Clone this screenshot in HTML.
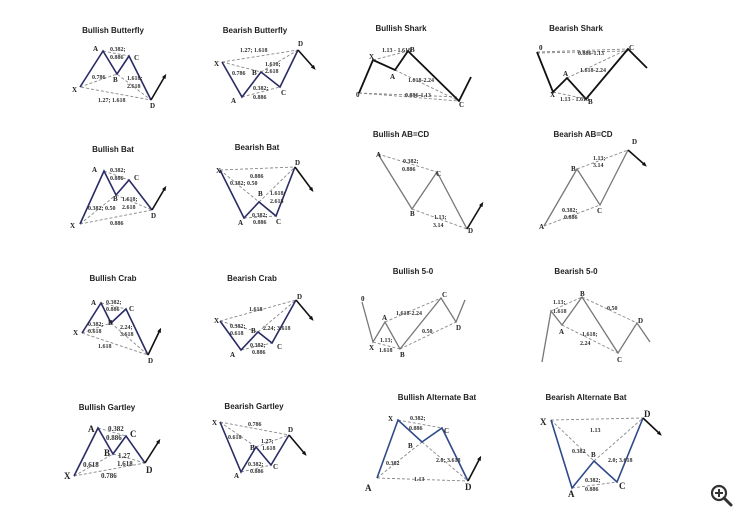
<!DOCTYPE html>
<html><head><meta charset="utf-8"><style>
html,body{margin:0;padding:0;background:#fff;}
svg{display:block}
.t{font-family:"Liberation Sans",sans-serif;font-weight:bold;font-size:8px;fill:#222;text-anchor:middle}
.l{font-family:"Liberation Serif",serif;font-weight:bold;font-size:7px;fill:#222}
.s{font-family:"Liberation Serif",serif;font-weight:bold;font-size:6px;fill:#333}
.bl{fill:none;stroke:#2b2b66;stroke-width:1.6;stroke-linejoin:miter}
.bk{fill:none;stroke:#111;stroke-width:1.8}
.gr{fill:none;stroke:#777;stroke-width:1.3}
.d{fill:none;stroke:#888;stroke-width:0.9;stroke-dasharray:3,2}
.ar{fill:none;stroke:#111;stroke-width:1.6}
</style></head><body>
<svg width="750" height="523" viewBox="0 0 750 523" xmlns="http://www.w3.org/2000/svg">
<defs><marker id="m" markerUnits="userSpaceOnUse" markerWidth="5" markerHeight="5" refX="2.5" refY="2.5" orient="auto"><path d="M0,0.5 L5,2.5 L0,4.5z" fill="#111"/></marker></defs>

<!-- Bullish Butterfly -->
<text class="t" x="113" y="33">Bullish Butterfly</text>
<polyline class="d" points="80,87 117,74 151,100 80,87"/><line class="d" x1="103" y1="51" x2="129" y2="56"/>
<polyline class="bl" points="80,87 103,51 117,74 129,56 151,100"/>
<line class="ar" x1="151" y1="100" x2="165" y2="76" marker-end="url(#m)"/>
<text class="l" x="93" y="51">A</text><text class="l" x="113" y="82">B</text><text class="l" x="134" y="60">C</text><text class="l" x="150" y="108">D</text><text class="l" x="72" y="92">X</text>
<text class="s" x="110" y="51">0.382;</text><text class="s" x="110" y="59">0.886</text><text class="s" x="92" y="79">0.786</text>
<text class="s" x="127" y="80">1.618;</text><text class="s" x="127" y="88">2.618</text><text class="s" x="98" y="102">1.27; 1.618</text>

<!-- Bearish Butterfly -->
<text class="t" x="255" y="33">Bearish Butterfly</text>
<polyline class="d" points="222,62 298,50"/><line class="d" x1="222" y1="62" x2="261" y2="72"/><line class="d" x1="261" y1="72" x2="298" y2="50"/><line class="d" x1="242" y1="97" x2="280" y2="87"/>
<polyline class="bl" points="222,62 242,97 261,72 280,87 298,50"/>
<line class="ar" x1="298" y1="50" x2="314" y2="68" marker-end="url(#m)"/>
<text class="l" x="214" y="66">X</text><text class="l" x="231" y="103">A</text><text class="l" x="252" y="75">B</text><text class="l" x="281" y="95">C</text><text class="l" x="298" y="46">D</text>
<text class="s" x="240" y="52">1.27; 1.618</text><text class="s" x="232" y="75">0.786</text><text class="s" x="265" y="66">1.618;</text><text class="s" x="265" y="73">2.618</text>
<text class="s" x="253" y="90">0.382;</text><text class="s" x="253" y="99">0.886</text>

<!-- Bullish Shark -->
<text class="t" x="401" y="31">Bullish Shark</text>
<line class="d" x1="359" y1="93" x2="459" y2="101"/><line class="d" x1="359" y1="93" x2="459" y2="97"/><line class="d" x1="373" y1="60" x2="408" y2="51"/><line class="d" x1="395" y1="70" x2="459" y2="101"/>
<polyline class="bk" points="359,93 373,60 395,70 408,51 459,101 471,77"/>
<text class="l" x="356" y="97">0</text><text class="l" x="369" y="59">X</text><text class="l" x="390" y="79">A</text><text class="l" x="410" y="52">B</text><text class="l" x="459" y="107">C</text>
<text class="s" x="382" y="52">1.13 - 1.618</text><text class="s" x="408" y="82">1.618-2.24</text><text class="s" x="405" y="97">0.886-1.13</text>

<!-- Bearish Shark -->
<text class="t" x="576" y="31">Bearish Shark</text>
<line class="d" x1="537" y1="52" x2="628" y2="49"/><line class="d" x1="537" y1="53" x2="628" y2="51"/><line class="d" x1="567" y1="78" x2="628" y2="49"/><line class="d" x1="553" y1="92" x2="586" y2="99"/>
<polyline class="bk" points="537,52 553,92 567,78 586,99 628,49 647,68"/>
<text class="l" x="539" y="50">0</text><text class="l" x="550" y="97">X</text><text class="l" x="563" y="76">A</text><text class="l" x="588" y="104">B</text><text class="l" x="629" y="50">C</text>
<text class="s" x="578" y="55">0.886-1.13</text><text class="s" x="580" y="72">1.618-2.24</text><text class="s" x="560" y="101">1.13 - 1.618</text>

<!-- Bullish Bat -->
<text class="t" x="113" y="152">Bullish Bat</text>
<line class="d" x1="80" y1="224" x2="116" y2="195"/><line class="d" x1="80" y1="224" x2="152" y2="210"/><line class="d" x1="104" y1="171" x2="129" y2="180"/><line class="d" x1="116" y1="195" x2="152" y2="210"/>
<polyline class="bl" points="80,224 104,171 116,195 129,180 152,210"/>
<line class="ar" x1="152" y1="210" x2="165" y2="188" marker-end="url(#m)"/>
<text class="l" x="92" y="172">A</text><text class="l" x="113" y="201">B</text><text class="l" x="134" y="180">C</text><text class="l" x="151" y="218">D</text><text class="l" x="70" y="228">X</text>
<text class="s" x="110" y="172">0.382;</text><text class="s" x="110" y="180">0.886</text><text class="s" x="88" y="210">0.382; 0.50</text>
<text class="s" x="122" y="201">1.618;</text><text class="s" x="122" y="209">2.618</text><text class="s" x="110" y="225">0.886</text>

<!-- Bearish Bat -->
<text class="t" x="257" y="150">Bearish Bat</text>
<line class="d" x1="220" y1="170" x2="295" y2="167"/><line class="d" x1="220" y1="170" x2="259" y2="202"/><line class="d" x1="259" y1="202" x2="295" y2="167"/><line class="d" x1="244" y1="218" x2="276" y2="216"/>
<polyline class="bl" points="220,170 244,218 259,202 276,216 295,167"/>
<line class="ar" x1="295" y1="167" x2="312" y2="190" marker-end="url(#m)"/>
<text class="l" x="216" y="173">X</text><text class="l" x="238" y="225">A</text><text class="l" x="258" y="196">B</text><text class="l" x="276" y="224">C</text><text class="l" x="295" y="165">D</text>
<text class="s" x="250" y="178">0.886</text><text class="s" x="230" y="185">0.382; 0.50</text><text class="s" x="270" y="195">1.618;</text><text class="s" x="270" y="203">2.618</text>
<text class="s" x="252" y="217">0.382;</text><text class="s" x="253" y="224">0.886</text>

<!-- Bullish AB=CD -->
<text class="t" x="401" y="137">Bullish AB=CD</text>
<line class="d" x1="378" y1="154" x2="437" y2="172"/><line class="d" x1="412" y1="209" x2="467" y2="229"/>
<polyline class="gr" points="378,154 412,209 437,172 467,229"/>
<line class="ar" x1="467" y1="229" x2="482" y2="204" marker-end="url(#m)"/>
<text class="l" x="376" y="157">A</text><text class="l" x="410" y="216">B</text><text class="l" x="436" y="176">C</text><text class="l" x="468" y="233">D</text>
<text class="s" x="403" y="163">0.382;</text><text class="s" x="402" y="171">0.886</text><text class="s" x="434" y="219">1.13;</text><text class="s" x="433" y="227">3.14</text>

<!-- Bearish AB=CD -->
<text class="t" x="583" y="137">Bearish AB=CD</text>
<line class="d" x1="577" y1="169" x2="628" y2="150"/><line class="d" x1="544" y1="226" x2="600" y2="205"/>
<polyline class="gr" points="544,226 577,169 600,205 628,150"/>
<line class="ar" x1="628" y1="150" x2="645" y2="165" marker-end="url(#m)"/>
<text class="l" x="539" y="229">A</text><text class="l" x="571" y="171">B</text><text class="l" x="597" y="213">C</text><text class="l" x="632" y="144">D</text>
<text class="s" x="593" y="160">1.13;</text><text class="s" x="593" y="167">3.14</text><text class="s" x="562" y="212">0.382;</text><text class="s" x="564" y="219">0.886</text>

<!-- Bullish Crab -->
<text class="t" x="113" y="281">Bullish Crab</text>
<line class="d" x1="82" y1="333" x2="111" y2="323"/><line class="d" x1="82" y1="333" x2="148" y2="355"/><line class="d" x1="101" y1="303" x2="126" y2="309"/><line class="d" x1="111" y1="323" x2="148" y2="355"/>
<polyline class="bl" points="82,333 101,303 111,323 126,309 148,355"/>
<line class="ar" x1="148" y1="355" x2="160" y2="330" marker-end="url(#m)"/>
<text class="l" x="91" y="305">A</text><text class="l" x="108" y="325">B</text><text class="l" x="129" y="311">C</text><text class="l" x="148" y="363">D</text><text class="l" x="73" y="335">X</text>
<text class="s" x="106" y="304">0.382;</text><text class="s" x="106" y="311">0.886</text><text class="s" x="88" y="326">0.382;</text><text class="s" x="88" y="333">0.618</text>
<text class="s" x="120" y="329">2.24;</text><text class="s" x="120" y="336">3.618</text><text class="s" x="98" y="348">1.618</text>

<!-- Bearish Crab -->
<text class="t" x="252" y="281">Bearish Crab</text>
<line class="d" x1="220" y1="321" x2="296" y2="300"/><line class="d" x1="220" y1="321" x2="258" y2="332"/><line class="d" x1="258" y1="332" x2="296" y2="300"/><line class="d" x1="241" y1="350" x2="272" y2="343"/>
<polyline class="bl" points="220,321 241,350 258,332 272,343 296,300"/>
<line class="ar" x1="296" y1="300" x2="312" y2="319" marker-end="url(#m)"/>
<text class="l" x="214" y="323">X</text><text class="l" x="230" y="357">A</text><text class="l" x="251" y="333">B</text><text class="l" x="277" y="349">C</text><text class="l" x="297" y="299">D</text>
<text class="s" x="249" y="311">1.618</text><text class="s" x="230" y="328">0.382;</text><text class="s" x="230" y="335">0.618</text><text class="s" x="263" y="330">2.24; 3.618</text>
<text class="s" x="250" y="347">0.382;</text><text class="s" x="252" y="354">0.886</text>

<!-- Bullish 5-0 -->
<text class="t" x="413" y="274">Bullish 5-0</text>
<line class="d" x1="385" y1="322" x2="441" y2="298"/><line class="d" x1="373" y1="342" x2="400" y2="349"/><line class="d" x1="400" y1="349" x2="456" y2="322"/>
<polyline class="gr" points="362,302 373,342 385,322 400,349 441,298 456,322 465,300"/>
<text class="l" x="361" y="301">0</text><text class="l" x="369" y="350">X</text><text class="l" x="382" y="320">A</text><text class="l" x="400" y="357">B</text><text class="l" x="442" y="297">C</text><text class="l" x="456" y="330">D</text>
<text class="s" x="396" y="315">1.618-2.24</text><text class="s" x="380" y="342">1.13;</text><text class="s" x="379" y="352">1.618</text><text class="s" x="422" y="333">0.50</text>

<!-- Bearish 5-0 -->
<text class="t" x="576" y="274">Bearish 5-0</text>
<line class="d" x1="551" y1="311" x2="582" y2="297"/><line class="d" x1="582" y1="297" x2="637" y2="323"/><line class="d" x1="562" y1="325" x2="618" y2="353"/>
<polyline class="gr" points="542,362 551,311 562,325 582,297 618,353 637,323 650,342"/>
<text class="l" x="580" y="296">B</text><text class="l" x="559" y="334">A</text><text class="l" x="617" y="362">C</text><text class="l" x="638" y="323">D</text>
<text class="s" x="553" y="304">1.13;</text><text class="s" x="553" y="313">1.618</text><text class="s" x="607" y="310">0.50</text><text class="s" x="582" y="336">1.618;</text><text class="s" x="580" y="345">2.24</text>

<!-- Bullish Gartley -->
<text class="t" x="107" y="410">Bullish Gartley</text>
<line class="d" x1="74" y1="476" x2="113" y2="454"/><line class="d" x1="74" y1="476" x2="145" y2="463"/><line class="d" x1="98" y1="428" x2="126" y2="436"/><line class="d" x1="113" y1="454" x2="145" y2="463"/>
<polyline class="bl" points="74,476 98,428 113,454 126,436 145,463"/>
<line class="ar" x1="145" y1="463" x2="159" y2="441" marker-end="url(#m)"/>
<text class="l" x="88" y="432" style="font-size:9px">A</text><text class="l" x="104" y="456" style="font-size:9px">B</text><text class="l" x="130" y="437" style="font-size:9px">C</text><text class="l" x="146" y="473" style="font-size:9px">D</text><text class="l" x="64" y="479" style="font-size:9px">X</text>
<text class="s" x="108" y="431" style="font-size:7px">0.382</text><text class="s" x="106" y="440" style="font-size:7px">0.886</text><text class="s" x="83" y="467" style="font-size:7px">0.618</text>
<text class="s" x="118" y="458" style="font-size:7px">1.27</text><text class="s" x="117" y="466" style="font-size:7px">1.618</text><text class="s" x="101" y="478" style="font-size:7px">0.786</text>

<!-- Bearish Gartley -->
<text class="t" x="254" y="409">Bearish Gartley</text>
<line class="d" x1="220" y1="422" x2="289" y2="435"/><line class="d" x1="220" y1="422" x2="256" y2="447"/><line class="d" x1="256" y1="447" x2="289" y2="435"/><line class="d" x1="241" y1="472" x2="271" y2="465"/>
<polyline class="bl" points="220,422 241,472 256,447 271,465 289,435"/>
<line class="ar" x1="289" y1="435" x2="305" y2="454" marker-end="url(#m)"/>
<text class="l" x="212" y="425">X</text><text class="l" x="234" y="478">A</text><text class="l" x="250" y="450">B</text><text class="l" x="273" y="469">C</text><text class="l" x="288" y="432">D</text>
<text class="s" x="248" y="426">0.786</text><text class="s" x="228" y="439">0.618</text><text class="s" x="261" y="443">1.27;</text><text class="s" x="262" y="450">1.618</text>
<text class="s" x="248" y="466">0.382;</text><text class="s" x="250" y="473">0.886</text>

<!-- Bullish Alternate Bat -->
<text class="t" x="437" y="400">Bullish Alternate Bat</text>
<line class="d" x1="377" y1="478" x2="422" y2="442"/><line class="d" x1="377" y1="478" x2="468" y2="481"/><line class="d" x1="398" y1="420" x2="442" y2="428"/><line class="d" x1="422" y1="442" x2="468" y2="481"/>
<polyline class="bl" points="377,478 398,420 422,442 442,428 468,481" style="stroke:#2f4a8a"/>
<line class="ar" x1="468" y1="481" x2="480" y2="458" marker-end="url(#m)"/>
<text class="l" x="365" y="491" style="font-size:9px">A</text><text class="l" x="388" y="421">X</text><text class="l" x="408" y="448">B</text><text class="l" x="444" y="433">C</text><text class="l" x="465" y="490" style="font-size:9px">D</text>
<text class="s" x="410" y="420">0.382;</text><text class="s" x="409" y="430">0.886</text><text class="s" x="386" y="465">0.382</text><text class="s" x="436" y="462">2.0; 3.618</text><text class="s" x="414" y="481">1.13</text>

<!-- Bearish Alternate Bat -->
<text class="t" x="586" y="400">Bearish Alternate Bat</text>
<line class="d" x1="551" y1="420" x2="643" y2="418"/><line class="d" x1="551" y1="420" x2="594" y2="461"/><line class="d" x1="594" y1="461" x2="643" y2="418"/><line class="d" x1="572" y1="488" x2="617" y2="482"/>
<polyline class="bl" points="551,420 572,488 594,461 617,482 643,418" style="stroke:#2f4a8a"/>
<line class="ar" x1="643" y1="418" x2="660" y2="434" marker-end="url(#m)"/>
<text class="l" x="540" y="425" style="font-size:9px">X</text><text class="l" x="568" y="497" style="font-size:9px">A</text><text class="l" x="591" y="457">B</text><text class="l" x="619" y="489" style="font-size:9px">C</text><text class="l" x="644" y="417" style="font-size:9px">D</text>
<text class="s" x="590" y="432">1.13</text><text class="s" x="572" y="453">0.382</text><text class="s" x="608" y="462">2.0; 3.618</text><text class="s" x="585" y="482">0.382;</text><text class="s" x="585" y="491">0.886</text>

<!-- magnifier -->
<circle cx="719" cy="493" r="7" fill="none" stroke="#333" stroke-width="2.2"/>
<line x1="719" y1="489" x2="719" y2="497" stroke="#333" stroke-width="2"/><line x1="715" y1="493" x2="723" y2="493" stroke="#333" stroke-width="2"/>
<line x1="724" y1="498" x2="731" y2="505" stroke="#333" stroke-width="3" stroke-linecap="round"/>
</svg>
</body></html>
